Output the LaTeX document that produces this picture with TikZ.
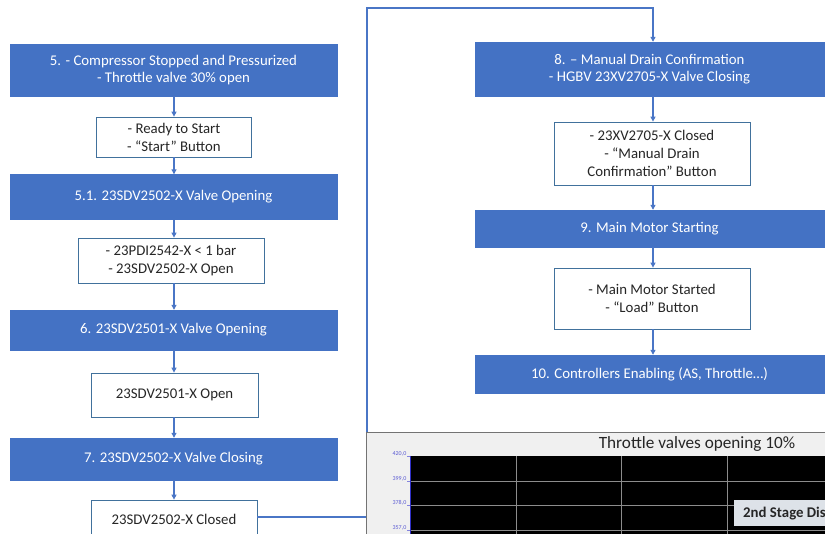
\documentclass[tikz,border=0pt]{standalone}
\usepackage{fontspec}
\setmainfont{Carlito}
\usetikzlibrary{arrows.meta}
\definecolor{obl}{HTML}{4472C4}
\definecolor{oln}{HTML}{4A76C6}
\definecolor{obd}{HTML}{41719C}
\definecolor{lgd}{HTML}{DDE2E8}
\definecolor{axb}{HTML}{3030C8}
\begin{document}
\begin{tikzpicture}[x=1pt,y=-1pt,
  bluebox/.style={rectangle,fill=obl,draw=obl,text=white,align=center,inner sep=0pt,font=\fontsize{14.8}{17.5}\selectfont},
  whitebox/.style={rectangle,fill=white,draw=obd,line width=0.8pt,text=black!85,align=center,inner sep=0pt,font=\fontsize{14.8}{18}\selectfont},
  conn/.style={draw=oln,line width=1.1pt},
  arr/.style={conn,-{Triangle[length=5pt,width=5pt]}}]
\useasboundingbox (0,0) rectangle (825,534);
\begin{scope}
\clip (0,0) rectangle (825,534);
% left column
\node[bluebox,minimum width=327pt,minimum height=52pt] (b5) at (173.5,70) {5. - Compressor Stopped and Pressurized\\- Throttle valve 30\% open};
\node[whitebox,minimum width=155pt,minimum height=40pt] (w1) at (174,137) {- Ready to Start\\- “Start” Button};
\node[bluebox,minimum width=327pt,minimum height=45pt] (b51) at (173.5,197) {5.1. 23SDV2502-X Valve Opening};
\node[whitebox,minimum width=186pt,minimum height=45pt] (w2) at (171,260.5) {- 23PDI2542-X < 1 bar\\- 23SDV2502-X Open};
\node[bluebox,minimum width=327pt,minimum height=40pt] (b6) at (173.5,330) {6. 23SDV2501-X Valve Opening};
\node[whitebox,minimum width=167pt,minimum height=44pt] (w3) at (174.5,395) {23SDV2501-X Open};
\node[bluebox,minimum width=327pt,minimum height=42pt] (b7) at (173.5,459) {7. 23SDV2502-X Valve Closing};
\node[whitebox,minimum width=166pt,minimum height=38pt] (w4) at (174,519) {23SDV2502-X Closed};
% right column
\node[bluebox,minimum width=349pt,minimum height=54pt] (b8) at (649.5,69) {8. – Manual Drain Confirmation\\- HGBV 23XV2705-X Valve Closing};
\node[whitebox,minimum width=196pt,minimum height=63pt] (w5) at (652,153.5) {- 23XV2705-X Closed\\- “Manual Drain\\Confirmation” Button};
\node[bluebox,minimum width=349pt,minimum height=37pt] (b9) at (649.5,228.5) {9. Main Motor Starting};
\node[whitebox,minimum width=196pt,minimum height=61pt] (w6) at (652,298.5) {- Main Motor Started\\- “Load” Button};
\node[bluebox,minimum width=349pt,minimum height=38pt] (b10) at (649.5,374) {10. Controllers Enabling (AS, Throttle…)};
% arrows left
\draw[arr] (b5.south -| 174,0) -- (w1.north -| 174,0);
\draw[arr] (w1.south -| 174,0) -- (b51.north -| 174,0);
\draw[arr] (b51.south -| 174,0) -- (w2.north -| 174,0);
\draw[arr] (w2.south -| 174,0) -- (b6.north -| 174,0);
\draw[arr] (b6.south -| 174,0) -- (w3.north -| 174,0);
\draw[arr] (w3.south -| 174,0) -- (b7.north -| 174,0);
\draw[arr] (b7.south -| 174,0) -- (w4.north -| 174,0);
% arrows right
\draw[arr] (b8.south -| 653,0) -- (w5.north -| 653,0);
\draw[arr] (w5.south -| 653,0) -- (b9.north -| 653,0);
\draw[arr] (b9.south -| 653,0) -- (w6.north -| 653,0);
\draw[arr] (w6.south -| 653,0) -- (b10.north -| 653,0);
% long connector
\coordinate (c1) at (367,517);
\coordinate (c2) at (367,8);
\coordinate (c3) at (653,8);
\draw[arr] (w4.east |- c1) -- (c1) -- (c2) -- (c3) -- (b8.north -| c3);
% chart
\node[rectangle,fill=black!6,draw=black!55,line width=1pt,minimum width=470pt,minimum height=110pt,anchor=north west,inner sep=0pt] (panel) at (365.5,432.5) {};
\node[rectangle,fill=black,minimum width=420pt,minimum height=90pt,anchor=north west,inner sep=0pt] (plot) at (410,456) {};
\foreach \yy in {481,505,530} \draw[black!45,line width=0.8pt] (410,\yy) -- (825,\yy);
\foreach \xx in {516,621,727} \draw[black!45,line width=0.8pt] (\xx,456) -- (\xx,534);
\draw[axb,line width=1pt] (410,456) -- (410,534);
\foreach \yy/\lab in {456/420{,}0,481/399{,}0,505/378{,}0,530/357{,}0} {
  \draw[axb!60,line width=0.6pt] (407,\yy) -- (410,\yy);
  \node[text=axb!80,font=\fontsize{6}{7}\selectfont,anchor=east,inner sep=0pt] (l\yy) at (406.5,\yy-2) {\lab};
}
\node[font=\fontsize{17.2}{19}\selectfont,text=black!85,inner sep=0pt] (title) at (697,444) {Throttle valves opening 10\%};
\node[rectangle,fill=lgd,minimum width=100pt,minimum height=26pt,anchor=north west,inner sep=0pt] (leg) at (734,500) {};
\node[font=\bfseries\fontsize{14.8}{16}\selectfont,text=black!85,anchor=west,inner sep=0pt] (legt) at (743,513.5) {2nd Stage Dis};
\end{scope}
\end{tikzpicture}
\end{document}
